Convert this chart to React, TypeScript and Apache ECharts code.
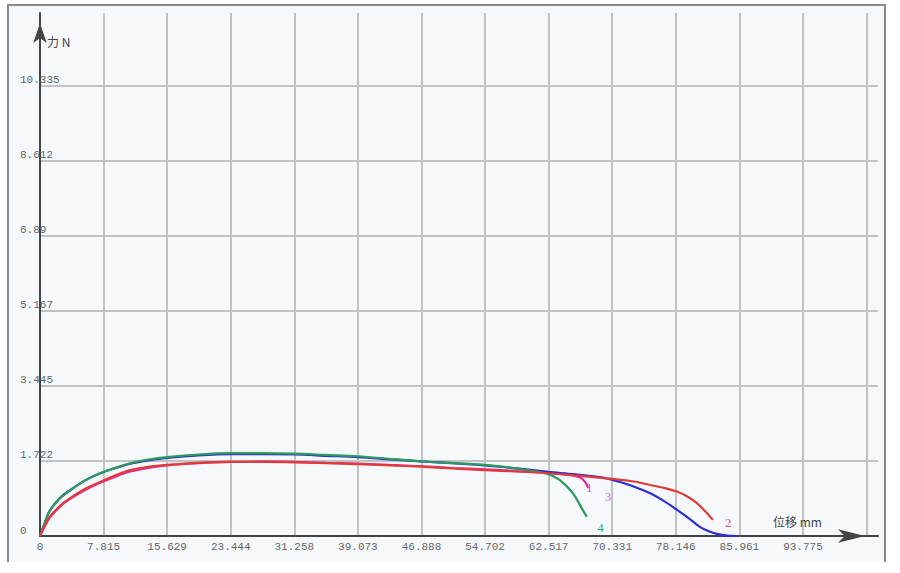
import React, { useEffect, useRef } from "react";
import * as echarts from "echarts";

// Tick labels
const xLabels = ["0", "7.815", "15.629", "23.444", "31.258", "39.073", "46.888", "54.702", "62.517", "70.331", "78.146", "85.961", "93.775", ""];
const yLabels = ["0", "1.722", "3.445", "5.167", "6.89", "8.612", "10.335", ""];

// Curve 1 (magenta)
const s1X = [0, 0.5, 1.2, 2.5, 3.7, 5.5, 7.4, 9.5, 11.1, 13.5, 15.6, 19.5, 23.4, 27.3, 31.3, 35.2, 39.1, 43, 46.9, 50.8, 54.7, 58.6, 62.5, 65, 66.4, 67.0, 67.4];
const s1Y = [0, 0.19, 0.42, 0.68, 0.85, 1.05, 1.22, 1.38, 1.48, 1.57, 1.62, 1.67, 1.70, 1.71, 1.70, 1.68, 1.66, 1.63, 1.60, 1.56, 1.53, 1.49, 1.45, 1.40, 1.34, 1.24, 1.10];
// Curve 2 (red)
const s2X = [0, 0.5, 1.2, 2.5, 3.7, 5.5, 7.4, 9.5, 11.1, 13.5, 15.6, 19.5, 23.4, 27.3, 31.3, 35.2, 39.1, 43, 46.9, 50.8, 54.7, 58.6, 62.5, 66.4, 70.3, 73.0, 75.0, 76.8, 78.3, 79.6, 80.7, 81.7, 82.7];
const s2Y = [0, 0.2, 0.44, 0.70, 0.87, 1.08, 1.24, 1.41, 1.51, 1.59, 1.63, 1.68, 1.70, 1.70, 1.69, 1.67, 1.65, 1.62, 1.59, 1.55, 1.51, 1.48, 1.44, 1.38, 1.31, 1.25, 1.17, 1.10, 1.02, 0.90, 0.76, 0.58, 0.37];
// Curve 3 (blue)
const s3X = [0, 0.5, 1.2, 2.5, 3.7, 5.5, 7.4, 9.5, 11.1, 13.5, 15.6, 19.5, 23.4, 27.3, 31.3, 35.2, 39.1, 43, 46.9, 50.8, 54.7, 58.6, 62.5, 65.6, 68.8, 71.3, 73.2, 75.0, 76.7, 78.3, 79.8, 81.1, 82.2, 83.2, 84.5, 85.7];
const s3Y = [0, 0.26, 0.58, 0.88, 1.05, 1.27, 1.44, 1.57, 1.66, 1.74, 1.79, 1.85, 1.88, 1.88, 1.87, 1.84, 1.81, 1.76, 1.71, 1.67, 1.62, 1.55, 1.47, 1.42, 1.35, 1.24, 1.12, 0.98, 0.80, 0.60, 0.40, 0.21, 0.11, 0.05, 0.01, 0];
// Curve 4 (green)
const s4X = [0, 0.5, 1.2, 2.5, 3.7, 5.5, 7.4, 9.5, 11.1, 13.5, 15.6, 19.5, 23.4, 27.3, 31.3, 35.2, 39.1, 43, 46.9, 50.8, 54.7, 58.6, 62.5, 63.9, 65.5, 66.7, 67.2];
const s4Y = [0, 0.26, 0.58, 0.88, 1.05, 1.27, 1.44, 1.58, 1.67, 1.76, 1.81, 1.87, 1.90, 1.90, 1.89, 1.86, 1.83, 1.77, 1.71, 1.67, 1.63, 1.55, 1.42, 1.28, 0.98, 0.60, 0.44];

// Curve labels (data coordinates)
const curveNames = ["1", "2", "3", "4"];
const labelPos = [[67.5, 1.12], [84.6, 0.3], [69.8, 0.9], [68.9, 0.2]];

const colors = ["#e0309a", "#e03a3a", "#2c2cd8", "#2e9a5c"];
const labelColors = ["#c84fd8", "#d86060", "#cc70d8", "#40a070"];

const zip = (xs: number[], ys: number[]) => xs.map((x, i) => [x, ys[i]]);

export default function App() {
  const ref = useRef<HTMLDivElement>(null);
  useEffect(() => {
    if (!ref.current) return;
    const chart = echarts.init(ref.current, null, { renderer: "svg" });
    const seriesData = [zip(s1X, s1Y), zip(s2X, s2Y), zip(s3X, s3Y), zip(s4X, s4Y)];
    const tickFont = { color: "#666", fontFamily: "Liberation Mono", fontSize: 11 };
    chart.setOption({
      animation: false,
      backgroundColor: "#ffffff",
      graphic: [
        { type: "rect", z: -10, shape: { x: 8, y: 5, width: 877, height: 557 }, style: { fill: "#f6f9fc" } },
        { type: "polyline", z: 5, shape: { points: [[8, 562], [8, 5], [885, 5], [885, 562]] }, style: { stroke: "#8a8a8a", lineWidth: 2, fill: "none" } },
      ],
      grid: { left: 40, right: 22, top: 13, bottom: 37 },
      xAxis: {
        type: "value",
        min: 0,
        max: 103,
        interval: 7.8146,
        name: "位移 mm",
        nameLocation: "end",
        nameGap: -105,
        nameTextStyle: { align: "left", verticalAlign: "bottom", color: "#444", fontSize: 12, fontFamily: "Noto Sans CJK SC", padding: [0, 0, 9, 0] },
        axisLine: { show: true, symbol: ["none", "arrow"], symbolSize: [10, 27], symbolOffset: [0, -13], lineStyle: { color: "#444", width: 2 } },
        axisTick: { show: false },
        splitLine: { show: true, showMaxLine: false, lineStyle: { color: "#c2c2c2", width: 2 } },
        axisLabel: { ...tickFont, margin: 5, showMaxLabel: false, formatter: (_v: number, i: number) => xLabels[i] ?? "" },
      },
      yAxis: {
        type: "value",
        min: 0,
        max: 12,
        interval: 1.7225,
        name: "力 N",
        nameLocation: "end",
        nameGap: -34,
        nameTextStyle: { align: "left", verticalAlign: "bottom", color: "#444", fontSize: 12, fontFamily: "Noto Sans CJK SC", padding: [0, 0, 0, 7] },
        axisLine: { show: true, symbol: ["none", "arrow"], symbolSize: [10, 20], symbolOffset: [0, -10], lineStyle: { color: "#444", width: 2 } },
        axisTick: { show: false },
        splitLine: { show: true, showMaxLine: false, lineStyle: { color: "#c2c2c2", width: 2 } },
        axisLabel: { ...tickFont, margin: 20, align: "left", verticalAlign: "bottom", showMaxLabel: false, formatter: (_v: number, i: number) => yLabels[i] ?? "" },
      },
      series: seriesData.map((d, i) => ({
        type: "line",
        name: curveNames[i],
        data: d,
        showSymbol: false,
        smooth: 0.3,
        lineStyle: { color: colors[i], width: 2.2 },
        itemStyle: { color: colors[i] },
        z: 3 + (i === 1 ? 1 : 0),
        markPoint: {
          z: 20,
          symbol: "circle",
          symbolSize: 1,
          itemStyle: { color: "transparent" },
          label: { show: true, formatter: curveNames[i], color: labelColors[i], fontSize: 13, fontFamily: "Liberation Serif" },
          data: [{ coord: labelPos[i] }],
        },
      })),
    });
    return () => chart.dispose();
  }, []);
  return <div ref={ref} style={{ position: "fixed", left: 0, top: 0, width: 900, height: 573 }} />;
}
